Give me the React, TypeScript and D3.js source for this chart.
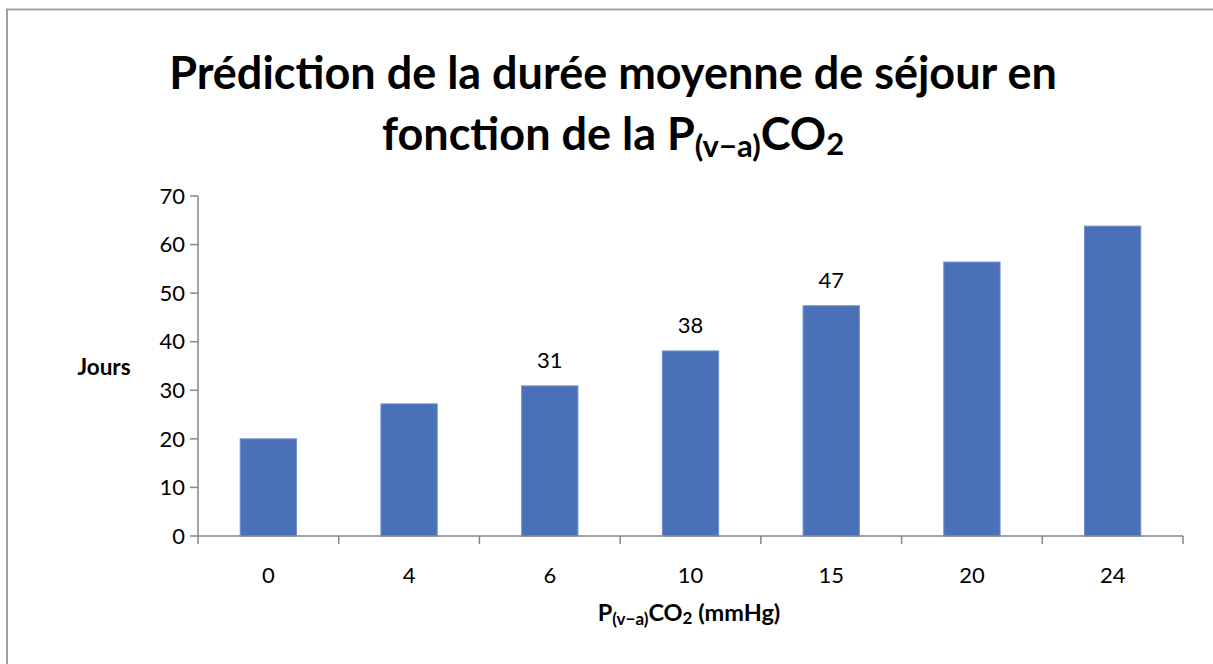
import React from 'react';
import * as d3 from 'd3';

const categories = ['0', '4', '6', '10', '15', '20', '24'];
const values = [20, 27.2, 30.9, 38.1, 47.4, 56.4, 63.8];
const shownLabels = ['', '', '31', '38', '47', '', ''];
const yTicks = [0, 10, 20, 30, 40, 50, 60, 70];

const W = 1213;
const H = 664;
const font = 'Lato, "Open Sans", sans-serif';

export default function App() {
  const plot = { left: 198, right: 1183, top: 196, bottom: 536 };

  const x = d3.scaleBand<string>()
    .domain(categories)
    .range([plot.left, plot.right])
    .paddingInner(0.6)
    .paddingOuter(0.3);
  const band = (plot.right - plot.left) / categories.length;

  const y = d3.scaleLinear().domain([0, 70]).range([plot.bottom, plot.top]);

  return (
    <svg width={W} height={H} style={{ position: 'absolute', left: 0, top: 0, background: '#fff' }}>
      {/* chart frame */}
      <rect x={7} y={9.5} width={W + 20} height={H + 20} fill="#fff" stroke="#a0a0a0" strokeWidth={2} />

      {/* title */}
      <text x={613} y={89} textAnchor="middle" fontFamily={font} fontWeight="bold" fontSize={45} fill="#000">
        Prédiction de la durée moyenne de séjour en
      </text>
      <text x={613} y={150} textAnchor="middle" fontFamily={font} fontWeight="bold" fontSize={45} fill="#000">
        fonction de la P
        <tspan fontSize={31} dy={7}>(v−a)</tspan>
        <tspan dy={-7}>CO</tspan>
        <tspan fontSize={31} dy={5}>2</tspan>
      </text>

      {/* bars */}
      {values.map((v, i) => (
        <rect key={i}
          x={x(categories[i])}
          y={y(v)}
          width={x.bandwidth()}
          height={y(0) - y(v)}
          fill="#4a71b8"
          stroke="#6f90cb"
          strokeWidth={1} />
      ))}

      {/* data labels */}
      {values.map((v, i) => shownLabels[i] ? (
        <text key={i} x={x(categories[i])! + x.bandwidth() / 2} y={y(v) - 18}
          textAnchor="middle" fontFamily={font} fontSize={22} fill="#000">
          {shownLabels[i]}
        </text>
      ) : null)}

      {/* y axis */}
      <line x1={plot.left} x2={plot.left} y1={plot.top} y2={plot.bottom} stroke="#868686" strokeWidth={1.5} />
      {yTicks.map(t => (
        <g key={t}>
          <line x1={plot.left - 8} x2={plot.left} y1={y(t)} y2={y(t)} stroke="#868686" strokeWidth={1.5} />
          <text x={plot.left - 13} y={y(t)} dy="0.35em" textAnchor="end" fontFamily={font} fontSize={22} fill="#000">
            {t}
          </text>
        </g>
      ))}

      {/* x axis */}
      <line x1={plot.left} x2={plot.right} y1={plot.bottom} y2={plot.bottom} stroke="#868686" strokeWidth={1.5} />
      {d3.range(categories.length + 1).map(i => (
        <line key={i} x1={plot.left + i * band} x2={plot.left + i * band} y1={plot.bottom} y2={plot.bottom + 8}
          stroke="#868686" strokeWidth={1.5} />
      ))}
      {categories.map(c => (
        <text key={c} x={x(c)! + x.bandwidth() / 2} y={583} textAnchor="middle" fontFamily={font} fontSize={22} fill="#000">
          {c}
        </text>
      ))}

      {/* axis titles */}
      <text x={689} y={621} textAnchor="middle" fontFamily={font} fontWeight="bold" fontSize={23.5} fill="#000">
        P
        <tspan fontSize={17} dy={4}>(v−a)</tspan>
        <tspan dy={-4}>CO</tspan>
        <tspan fontSize={17} dy={3}>2</tspan>
        <tspan dy={-3}> (mmHg)</tspan>
      </text>
      <text x={104} y={375} textAnchor="middle" fontFamily={font} fontWeight="bold" fontSize={22.5} fill="#000">
        Jours
      </text>
    </svg>
  );
}
